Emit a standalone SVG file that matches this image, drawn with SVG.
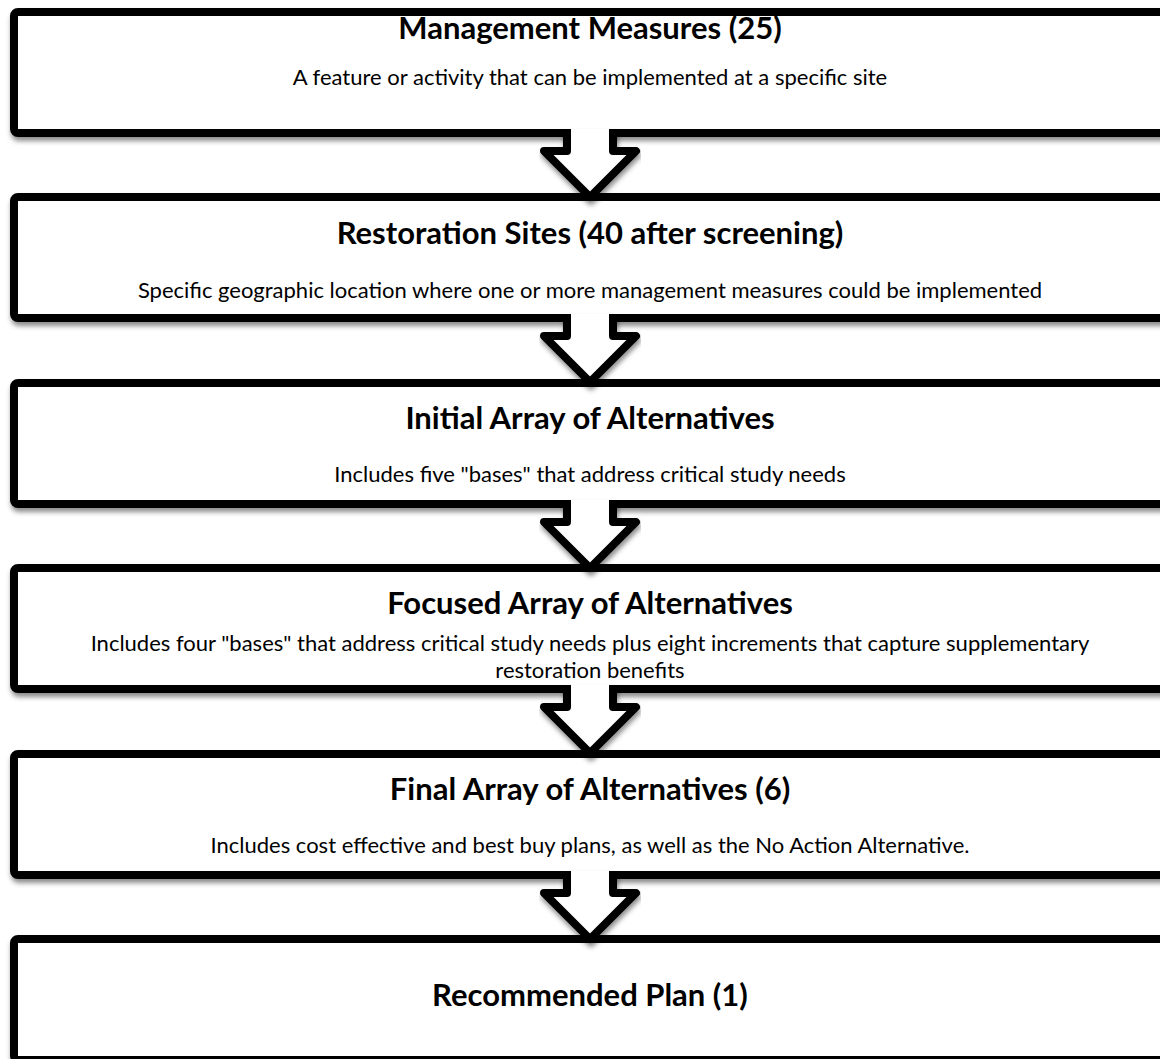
<svg xmlns="http://www.w3.org/2000/svg" width="1160" height="1059" viewBox="0 0 1160 1059">
<defs>
<filter id="sh" x="-5%" y="-20%" width="110%" height="150%">
<feDropShadow dx="1" dy="4" stdDeviation="2.5" flood-color="#000" flood-opacity="0.45"/>
</filter>
<style>
.box{fill:#fff;stroke:#000;stroke-width:8;stroke-linejoin:round}
.arr{fill:#fff;stroke:#000;stroke-width:8;stroke-linejoin:round;stroke-linecap:butt}
.t{font-family:Lato,"Open Sans",sans-serif;font-weight:bold;font-size:31px;fill:#000;text-anchor:middle}
.s{font-family:Lato,"Open Sans",sans-serif;font-size:22px;fill:#000;text-anchor:middle}
</style>
</defs>
<rect width="1160" height="1059" fill="#fff"/>
<g id="node1" filter="url(#sh)"><rect class="box" x="14" y="12" width="1160" height="121" rx="4"/></g>
<g id="node2" filter="url(#sh)"><rect class="box" x="14" y="197" width="1160" height="121" rx="4"/></g>
<g id="node3" filter="url(#sh)"><rect class="box" x="14" y="383" width="1160" height="121" rx="4"/></g>
<g id="node4" filter="url(#sh)"><rect class="box" x="14" y="568" width="1160" height="121" rx="4"/></g>
<g id="node5" filter="url(#sh)"><rect class="box" x="14" y="754" width="1160" height="121" rx="4"/></g>
<g id="node6" filter="url(#sh)"><rect class="box" x="14" y="939" width="1160" height="121" rx="4"/></g>
<g id="connectors" filter="url(#sh)">
<path class="arr" d="M567,129 V151 H544 L590,197 L636,151 H613 V129"/>
<path class="arr" d="M567,314 V336 H544 L590,382 L636,336 H613 V314"/>
<path class="arr" d="M567,500 V522 H544 L590,568 L636,522 H613 V500"/>
<path class="arr" d="M567,685 V707 H544 L590,753 L636,707 H613 V685"/>
<path class="arr" d="M567,871 V893 H544 L590,939 L636,893 H613 V871"/>
</g>
<g id="labels">
<text class="t" x="590" y="39">Management Measures (25)</text>
<text class="s" x="590" y="85">A feature or activity that can be implemented at a specific site</text>
<text class="t" x="590" y="244">Restoration Sites (40 after screening)</text>
<text class="s" x="590" y="298">Specific geographic location where one or more management measures could be implemented</text>
<text class="t" x="590" y="429">Initial Array of Alternatives</text>
<text class="s" x="590" y="482">Includes five "bases" that address critical study needs</text>
<text class="t" x="590" y="614">Focused Array of Alternatives</text>
<text class="s" x="590" y="651">Includes four "bases" that address critical study needs plus eight increments that capture supplementary</text>
<text class="s" x="590" y="678">restoration benefits</text>
<text class="t" x="590" y="800">Final Array of Alternatives (6)</text>
<text class="s" x="590" y="853">Includes cost effective and best buy plans, as well as the No Action Alternative.</text>
<text class="t" x="590" y="1006">Recommended Plan (1)</text>
</g>
</svg>
